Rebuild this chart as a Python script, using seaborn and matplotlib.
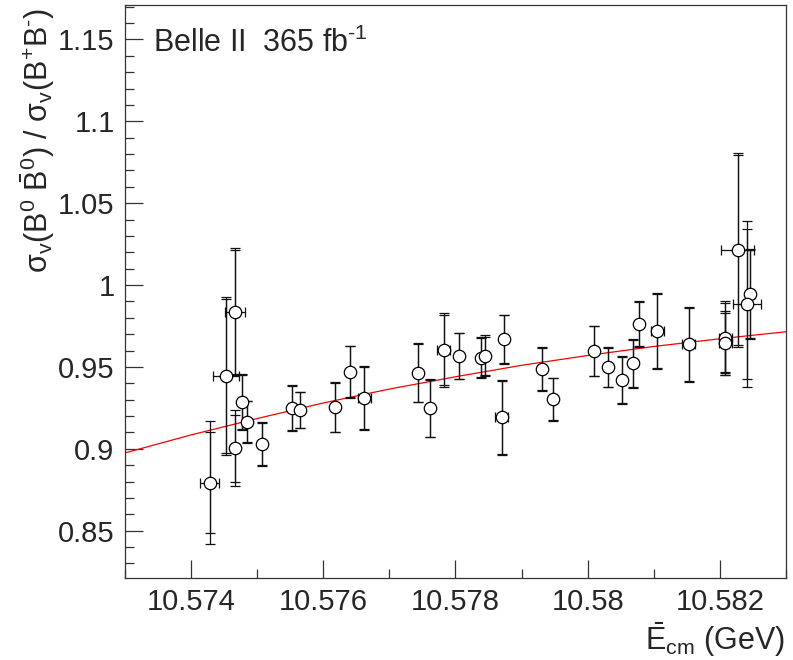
import numpy as np
import pandas as pd
import matplotlib
matplotlib.use("Agg")
import matplotlib.pyplot as plt
import seaborn as sns

energy = [10.57428, 10.57453, 10.57467, 10.57467, 10.57477, 10.57485, 10.57508,
          10.57552, 10.57565, 10.57617, 10.57640, 10.57662, 10.57744, 10.57761,
          10.57782, 10.57805, 10.57838, 10.57844, 10.57873, 10.57870, 10.57931,
          10.57948, 10.58010, 10.58031, 10.58052, 10.58069, 10.58077, 10.58105,
          10.58153, 10.58208, 10.58208, 10.58227, 10.58245, 10.58241]
ratio = [0.8793, 0.9446, 0.9837, 0.9003, 0.9285, 0.9165, 0.9029,
         0.9251, 0.9237, 0.9253, 0.9471, 0.9312, 0.9465, 0.9247,
         0.9603, 0.9567, 0.9556, 0.9567, 0.9668, 0.9192, 0.9487,
         0.9302, 0.9597, 0.9498, 0.9420, 0.9522, 0.9762, 0.9719,
         0.9638, 0.9675, 0.9648, 1.0214, 0.9945, 0.9884]
energy_err = [0.00014, 0.00020, 0.00015, 0, 0, 0, 0,
              0, 0, 0, 0, 0.0001, 0, 0,
              0.0001, 0, 0, 0, 0, 0.0001, 0,
              0, 0, 0, 0, 0, 0, 0.0001,
              0.0001, 0.0001, 0.0001, 0.00025, 0.00006, 0.00021]
stat_err = [0.031, 0.047, 0.038, 0.0205, 0.0165, 0.0125, 0.013,
            0.0135, 0.011, 0.015, 0.0155, 0.019, 0.0178, 0.0172,
            0.0215, 0.0138, 0.0118, 0.0115, 0.0147, 0.0225, 0.0128,
            0.0128, 0.015, 0.012, 0.0142, 0.0145, 0.0136, 0.0225,
            0.0222, 0.0215, 0.018, 0.058, 0.027, 0.046]
total_err = [0.0377, 0.0483, 0.0387, 0.0232, 0.017, 0.0128, 0.0133,
             0.014, 0.0112, 0.0152, 0.0158, 0.0195, 0.0182, 0.0177,
             0.0225, 0.0141, 0.0125, 0.0125, 0.015, 0.023, 0.0136,
             0.013, 0.0153, 0.0122, 0.0148, 0.015, 0.0139, 0.023,
             0.0228, 0.0225, 0.0195, 0.059, 0.0275, 0.0505]

# Fit curve
curve_energy = [10.573, 10.574, 10.575, 10.576, 10.577, 10.578,
                10.579, 10.580, 10.581, 10.582, 10.583]
curve_ratio = [0.8975, 0.9085, 0.9185, 0.9280, 0.9365, 0.9440,
               0.9510, 0.9570, 0.9625, 0.9672, 0.9715]

x_ticks = [10.574, 10.576, 10.578, 10.580, 10.582]
x_tick_labels = ["10.574", "10.576", "10.578", "10.58", "10.582"]
y_ticks = [0.85, 0.90, 0.95, 1.00, 1.05, 1.10, 1.15]
y_tick_labels = ["0.85", "0.9", "0.95", "1", "1.05", "1.1", "1.15"]

points = pd.DataFrame({"energy": energy, "ratio": ratio})
curve = pd.DataFrame({"energy": curve_energy, "ratio": curve_ratio})

sns.set_theme(style="ticks")
plt.rcParams["font.family"] = ["Liberation Sans", "DejaVu Sans"]
plt.rcParams["mathtext.fontset"] = "custom"
plt.rcParams["mathtext.rm"] = "Liberation Sans"
plt.rcParams["mathtext.it"] = "Liberation Sans:italic"
plt.rcParams["mathtext.default"] = "regular"

fig = plt.figure(figsize=(7.93, 6.60), dpi=100)
ax = fig.add_axes([0.1576, 0.1242, 0.8336, 0.8682])

# fit line
sns.lineplot(data=curve, x="energy", y="ratio", color="red", linewidth=0.9,
             ax=ax, zorder=2)

# total and statistical error bars
ax.errorbar(energy, ratio, yerr=total_err, xerr=energy_err, fmt="none",
            ecolor="#111111", elinewidth=0.9, capsize=3.6, capthick=0.9, zorder=3)
ax.errorbar(energy, ratio, yerr=stat_err, fmt="none",
            ecolor="#111111", elinewidth=0.9, capsize=3.6, capthick=0.9, zorder=3)

# markers
sns.scatterplot(data=points, x="energy", y="ratio", marker="o", s=80,
                facecolor="white", edgecolor="black", linewidth=0.9,
                ax=ax, zorder=4)

ax.set_xlim(10.573, 10.583)
ax.set_ylim(0.8211, 1.171)
ax.set_xticks(x_ticks)
ax.set_xticklabels(x_tick_labels)
ax.set_yticks(y_ticks)
ax.set_yticklabels(y_tick_labels)
ax.set_xticks(np.arange(10.573, 10.5835, 0.001), minor=True)
ax.set_yticks(np.arange(0.83, 1.171, 0.01), minor=True)
ax.tick_params(which="both", direction="in", labelsize=21, color="#333333")
ax.tick_params(which="major", length=13, width=0.9)
ax.tick_params(which="minor", length=6.5, width=0.9)
ax.tick_params(axis="x", pad=7)
ax.tick_params(axis="y", pad=7.5)
for side in ax.spines.values():
    side.set_linewidth(0.9)
    side.set_color("#333333")

ax.set_xlabel("")
ax.set_ylabel("")

ax.text(0.042, 0.918, r"Belle II  365 fb$^{\text{-1}}$", transform=ax.transAxes,
        fontsize=22, ha="left", va="baseline")

fig.text(0.047, 0.988,
         r"σ$_{v}$(B$^{0}$ $\bar{B}^{0}$) / σ$_{v}$(B$^{+}$B$^{\text{-}}$)",
         rotation=90, fontsize=22, ha="center", va="top")
fig.text(0.99, 0.002, r"$\bar{E}_{cm}$ (GeV)", fontsize=22,
         ha="right", va="bottom")

fig.savefig("out.png", dpi=100)
